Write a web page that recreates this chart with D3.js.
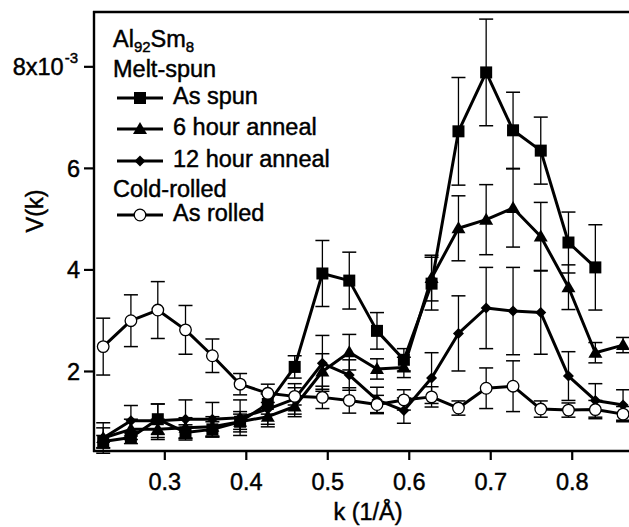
<!DOCTYPE html>
<html>
<head>
<meta charset="utf-8">
<script src="https://cdn.jsdelivr.net/npm/d3@7"></script>
<style>
  html, body { margin: 0; padding: 0; background: #fff; }
  svg { display: block; }
  text { font-family: "Liberation Sans", Arial, Helvetica, sans-serif; fill: #000; stroke: #000; stroke-width: 0.45px; }
</style>
</head>
<body>
<svg id="chart" width="629" height="527"></svg>
<script>
// ---- data ----
const kValues = [0.225, 0.259, 0.292, 0.326, 0.359, 0.393, 0.427, 0.460, 0.494, 0.527,
                 0.561, 0.594, 0.628, 0.661, 0.695, 0.728, 0.762, 0.796, 0.829, 0.863];

const asSpun    = [0.61, 0.69, 1.05, 0.79, 0.85, 1.00, 1.35, 2.08, 3.92, 3.78,
                   2.79, 2.22, 3.72, 6.72, 7.88, 6.74, 6.34, 4.53, 4.04];
const asSpunErr = [0.12, 0.12, 0.30, 0.15, 0.15, 0.15, 0.20, 0.22, 0.65, 0.56,
                   0.36, 0.22, 0.52, 1.06, 1.05, 0.75, 0.66, 0.60, 0.84];

const anneal6    = [0.68, 0.85, 0.85, 0.88, 0.90, 1.00, 1.10, 1.30, 1.99, 2.37,
                    2.04, 2.07, 3.83, 4.81, 4.98, 5.21, 4.65, 3.65, 2.36, 2.51];
const anneal6Err = [0.20, 0.20, 0.20, 0.20, 0.20, 0.20, 0.20, 0.20, 0.35, 0.35,
                    0.20, 0.20, 0.45, 0.64, 0.69, 0.77, 0.67, 0.44, 0.20, 0.15];

const anneal12    = [0.68, 1.02, 1.02, 1.05, 1.05, 1.08, 1.25, 1.45, 2.15, 1.92,
                     1.43, 1.22, 1.86, 2.74, 3.24, 3.18, 3.15, 1.90, 1.42, 1.33];
const anneal12Err = [0.30, 0.30, 0.33, 0.38, 0.33, 0.35, 0.30, 0.30, 0.55, 0.30,
                     0.25, 0.25, 0.50, 0.74, 0.80, 0.86, 0.82, 0.48, 0.33, 0.30];

const asRolled    = [2.48, 2.99, 3.20, 2.81, 2.30, 1.74, 1.56, 1.50, 1.48, 1.42,
                     1.34, 1.43, 1.49, 1.27, 1.66, 1.70, 1.25, 1.23, 1.24, 1.15];
const asRolledErr = [0.56, 0.51, 0.56, 0.48, 0.33, 0.21, 0.18, 0.17, 0.22, 0.25,
                     0.18, 0.20, 0.20, 0.14, 0.40, 0.50, 0.16, 0.14, 0.18, 0.15];

const xTicks = [0.3, 0.4, 0.5, 0.6, 0.7, 0.8];
const xTickLabels = ["0.3", "0.4", "0.5", "0.6", "0.7", "0.8"];
const yTicks = [2, 4, 6, 8];
const yTickLabels = ["2", "4", "6", "8x10"];

const seriesNames = ["As spun", "6 hour anneal", "12 hour anneal", "As rolled"];
const seriesSymbols = ["square", "triangle", "diamond", "circle"];

// ---- layout ----
const svg = d3.select("#chart");
const pLeft = 94, pRight = 629, pTop = 12, pBottom = 451;

const x = d3.scaleLinear().domain([0.2137, 0.8703]).range([pLeft, pRight]);
const y = d3.scaleLinear().domain([0.424, 9.07]).range([pBottom, pTop]);

const series = [
  { name: seriesNames[0], sym: seriesSymbols[0], vals: asSpun, errs: asSpunErr },
  { name: seriesNames[1], sym: seriesSymbols[1], vals: anneal6, errs: anneal6Err },
  { name: seriesNames[2], sym: seriesSymbols[2], vals: anneal12, errs: anneal12Err },
  { name: seriesNames[3], sym: seriesSymbols[3], vals: asRolled, errs: asRolledErr }
].map(s => ({ ...s, pts: s.vals.map((v, i) => ({ k: kValues[i], v, e: s.errs[i] })) }));

function drawMarker(g, sym, cx, cy) {
  if (sym === "square") {
    g.append("rect").attr("x", cx - 6).attr("y", cy - 6).attr("width", 12).attr("height", 12)
      .attr("fill", "#000");
  } else if (sym === "triangle") {
    g.append("path").attr("d", `M${cx},${cy - 7}L${cx + 7},${cy + 5}L${cx - 7},${cy + 5}Z`)
      .attr("fill", "#000");
  } else if (sym === "diamond") {
    g.append("path").attr("d", `M${cx},${cy - 5.5}L${cx + 5.5},${cy}L${cx},${cy + 5.5}L${cx - 5.5},${cy}Z`)
      .attr("fill", "#000");
  } else {
    g.append("circle").attr("cx", cx).attr("cy", cy).attr("r", 5.8)
      .attr("fill", "#fff").attr("stroke", "#000").attr("stroke-width", 1.3);
  }
}

// error bars
const errG = svg.append("g");
series.forEach(s => {
  s.pts.forEach(p => {
    const px = x(p.k), y1 = y(p.v + p.e), y2 = y(p.v - p.e);
    errG.append("line").attr("x1", px).attr("x2", px).attr("y1", y1).attr("y2", y2)
      .attr("stroke", "#000").attr("stroke-width", 1.3);
    [y1, y2].forEach(yy => errG.append("line").attr("x1", px - 7).attr("x2", px + 7)
      .attr("y1", yy).attr("y2", yy).attr("stroke", "#000").attr("stroke-width", 1.5));
  });
});

// lines + markers
const line = d3.line().x(d => x(d.k)).y(d => y(d.v));
series.forEach(s => {
  const g = svg.append("g");
  g.append("path").attr("d", line(s.pts)).attr("fill", "none")
    .attr("stroke", "#000").attr("stroke-width", 3).attr("stroke-linejoin", "round");
  s.pts.forEach(p => drawMarker(g, s.sym, x(p.k), y(p.v)));
});

// axes frame
svg.append("line").attr("x1", pLeft).attr("x2", pLeft).attr("y1", pTop - 1).attr("y2", pBottom + 1)
  .attr("stroke", "#000").attr("stroke-width", 2.4);
svg.append("line").attr("x1", pLeft - 1).attr("x2", pRight).attr("y1", pBottom).attr("y2", pBottom)
  .attr("stroke", "#000").attr("stroke-width", 2.4);
svg.append("line").attr("x1", pLeft - 1).attr("x2", pRight).attr("y1", pTop).attr("y2", pTop)
  .attr("stroke", "#000").attr("stroke-width", 2.4);

// x axis
const xAxis = d3.axisBottom(x).tickValues(xTicks).tickSize(9).tickSizeOuter(0)
  .tickFormat((d, i) => xTickLabels[i]);
const gx = svg.append("g").attr("transform", `translate(0,${pBottom})`).call(xAxis);
gx.select(".domain").remove();
gx.selectAll(".tick line").attr("stroke", "#000").attr("stroke-width", 2.2);
gx.selectAll(".tick text").attr("font-size", 23.5).attr("y", 22).attr("dy", "0.71em")
  .style("font-family", '"Liberation Sans", Arial, sans-serif');

// y axis
const yAxis = d3.axisLeft(y).tickValues(yTicks).tickSize(10).tickSizeOuter(0)
  .tickFormat((d, i) => yTickLabels[i]);
const gy = svg.append("g").attr("transform", `translate(${pLeft},0)`).call(yAxis);
gy.select(".domain").remove();
gy.selectAll(".tick line").attr("stroke", "#000").attr("stroke-width", 2.2);
gy.selectAll(".tick text").attr("font-size", 23.5).attr("x", -14).attr("dy", "0.36em")
  .style("font-family", '"Liberation Sans", Arial, sans-serif');
gy.selectAll(".tick text").filter(d => d === 8).attr("x", -16)
  .append("tspan").attr("font-size", 15).attr("dy", "-0.85em").attr("dx", "1").text("-3");

// axis titles
svg.append("text").attr("x", 368).attr("y", 520).attr("text-anchor", "middle")
  .attr("font-size", 23.5).text("k (1/Å)");
svg.append("text").attr("transform", "translate(43,211) rotate(-90)").attr("text-anchor", "middle")
  .attr("font-size", 23.5).text("V(k)");

// legend
const leg = svg.append("g");
const t0 = leg.append("text").attr("x", 113).attr("y", 47).attr("font-size", 23.5);
t0.append("tspan").text("Al");
t0.append("tspan").attr("font-size", 15).attr("dy", 5).text("92");
t0.append("tspan").attr("dy", -5).text("Sm");
t0.append("tspan").attr("font-size", 15).attr("dy", 5).text("8");

leg.append("text").attr("x", 113).attr("y", 77).attr("font-size", 23.5).text("Melt-spun");
leg.append("text").attr("x", 113).attr("y", 197).attr("font-size", 23.5).text("Cold-rolled");

const legRows = [
  { s: series[0], yb: 104 },
  { s: series[1], yb: 135 },
  { s: series[2], yb: 167 },
  { s: series[3], yb: 221 }
];
legRows.forEach(r => {
  const ly = r.yb - 6;
  leg.append("line").attr("x1", 117).attr("x2", 163).attr("y1", ly).attr("y2", ly)
    .attr("stroke", "#000").attr("stroke-width", 3);
  drawMarker(leg, r.s.sym, 140, ly);
  leg.append("text").attr("x", 173).attr("y", r.yb).attr("font-size", 23.5).text(r.s.name);
});
</script>
</body>
</html>
